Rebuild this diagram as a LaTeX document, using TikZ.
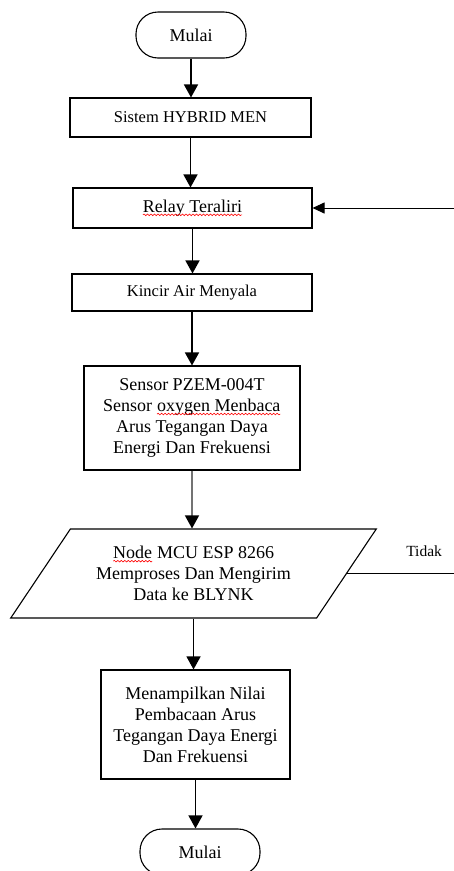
\documentclass[tikz,border=0pt]{standalone}
\usepackage{fontspec}
\setmainfont{Liberation Serif}
\usetikzlibrary{shapes.geometric,arrows.meta,decorations.pathmorphing}

\newcommand\salahketik[1]{\tikz[baseline=(t.base)]{\node[shape=rectangle, draw=none, inner sep=0pt, outer sep=0pt,
    minimum width=0pt, minimum height=0pt, align=left, font=] (t) {#1};
    \draw[red, line width=0.6pt, decorate, decoration={snake,amplitude=0.8pt,segment length=3.5pt}]
    ([yshift=-2.5pt]t.base west) -- ([yshift=-2.5pt]t.base east);}}

\tikzset{
    kotak/.style={draw, line width=1.1pt, align=center, inner sep=2pt},
    besar/.style={font=\fontsize{18}{21}\selectfont},
    terminal/.style={draw, line width=1.1pt, rounded corners=22pt, minimum width=110, minimum height=46, besar},
    panah/.style={line width=1.6pt, -{Triangle[width=14pt,length=13pt]}},
    every node/.style={font=\fontsize{16.5}{21}\selectfont},
}

\begin{document}
\begin{tikzpicture}[x=1pt,y=-1pt]
\useasboundingbox (0,0) rectangle (454,871);
\clip (0,0) rectangle (454,871);

\node[terminal] (mulai) at (191,35) {Mulai};
\node[kotak, minimum width=241, minimum height=39] (sistem) at (190.5,117.5) {Sistem HYBRID MEN};
\node[kotak, besar, minimum width=239, minimum height=40] (relay) at (192.5,208) {\salahketik{Relay Teraliri}};
\node[kotak, minimum width=240, minimum height=37] (kincir) at (192,292.5) {Kincir Air Menyala};
\node[kotak, besar, minimum width=216, minimum height=104] (sensor) at (192,418)
    {Sensor PZEM-004T\\ Sensor \salahketik{oxygen Menbaca}\\ Arus Tegangan Daya\\ Energi Dan Frekuensi};
\node[kotak, besar, trapezium, trapezium left angle=50.6, trapezium right angle=129.4, trapezium stretches=true,
    minimum width=367, minimum height=89] (nodemcu) at (193.5,573.5)
    {\salahketik{Node} MCU ESP 8266\\ Memproses Dan Mengirim\\ Data ke BLYNK};
\node[kotak, besar, minimum width=189, minimum height=109] (tampil) at (195.5,724.5)
    {Menampilkan Nilai\\ Pembacaan Arus\\ Tegangan Daya Energi\\ Dan Frekuensi};
\node[terminal, minimum width=120] (selesai) at (200,852) {Mulai};

\draw[panah] (mulai.south) -- (mulai.south |- sistem.north);
\draw[panah] (sistem.south) -- (sistem.south |- relay.north);
\draw[panah] (relay.south) -- (relay.south |- kincir.north);
\draw[panah] (kincir.south) -- (kincir.south |- sensor.north);
\draw[panah, line width=1.4pt, draw=black!55, -{Triangle[width=14pt,length=13pt,color=black]}] (sensor.south) -- (sensor.south |- nodemcu.north);
\draw[panah, line width=1.3pt] (nodemcu.south) -- (nodemcu.south |- tampil.north);
\draw[panah, line width=1.3pt] (tampil.south) -- (tampil.south |- selesai.north);

% jalur tidak kembali ke relay
\draw[line width=1pt, -{Triangle[width=11pt,length=12pt]}] (nodemcu.east) -- ++(140,0)
    node[pos=0.55, above=13pt, font=\fontsize{15.5}{19}\selectfont] {Tidak} |- (relay.east);

\end{tikzpicture}
\end{document}
